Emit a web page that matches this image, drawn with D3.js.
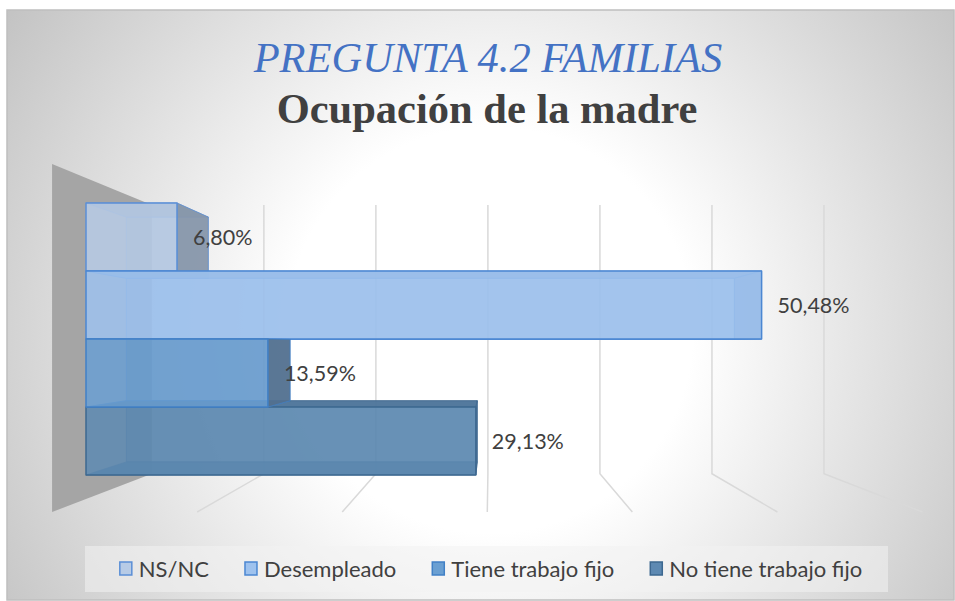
<!DOCTYPE html>
<html>
<head>
<meta charset="utf-8">
<script src="https://cdn.jsdelivr.net/npm/d3@7"></script>
<style>
  html, body { margin: 0; padding: 0; background: #fff; }
  svg { display: block; }
</style>
</head>
<body>
<div id="viz"></div>
<script>
// chart data
var categories = ["NS/NC", "Desempleado", "Tiene trabajo fijo", "No tiene trabajo fijo"];
var values = [6.80, 50.48, 13.59, 29.13];
var axisTicks = [0, 10, 20, 30, 40, 50, 60];
var titleTop = "PREGUNTA 4.2 FAMILIAS";
var titleMain = "Ocupación de la madre";

var fills = ["#b7cbe6", "#9ec2ee", "#6a9fd2", "#5d89b2"];
var strokes = ["#5b8fd6", "#4b87d2", "#4180c6", "#3d6890"];
var darkFills = ["#8797ab", "#7f9fc7", "#52708f", "#4b7399"];

const W = 955, H = 601;

const svg = d3.select("#viz")
  .append("svg")
    .attr("width", W)
    .attr("height", H);

// background
const defs = svg.append("defs");
const bg = defs.append("radialGradient")
    .attr("id", "bg")
    .attr("gradientUnits", "userSpaceOnUse")
    .attr("cx", 490).attr("cy", 330).attr("r", 580);
bg.append("stop").attr("offset", "0").attr("stop-color", "#ffffff");
bg.append("stop").attr("offset", "0.35").attr("stop-color", "#ffffff");
bg.append("stop").attr("offset", "1").attr("stop-color", "#c3c3c3");

svg.append("rect")
    .attr("x", 7).attr("y", 10)
    .attr("width", 947).attr("height", 590)
    .attr("fill", "url(#bg)")
    .attr("stroke", "#bfbfbf")
    .attr("stroke-width", 1.5);

// titles
svg.append("text")
    .attr("x", 488).attr("y", 72)
    .attr("text-anchor", "middle")
    .style("font-family", "'Liberation Serif', 'Times New Roman', serif")
    .style("font-style", "italic")
    .style("font-size", "42.5px")
    .attr("fill", "#4472c4")
    .text(titleTop);

svg.append("text")
    .attr("x", 487).attr("y", 123)
    .attr("text-anchor", "middle")
    .style("font-family", "'Liberation Serif', 'Times New Roman', serif")
    .style("font-weight", "bold")
    .style("font-size", "42.5px")
    .attr("fill", "#404040")
    .text(titleMain);

// 3d projection: point on the bars' front plane, pulled toward the vanishing point by f
const VP = [490, 344];
function proj(x, y, f) {
  return [VP[0] + (x - VP[0]) * f, VP[1] + (y - VP[1]) * f];
}
const boxFront = 1.084, boxBack = 0.837, barFront = 1, barBack = 0.9;
const plotTop = 178, plotBottom = 499;

const x = d3.scaleLinear()
    .domain([0, 60])
    .range([86, 889]);

const y = d3.scaleBand()
    .domain(categories)
    .range([203, 475])
    .padding(0);

const line = d3.line();

// side wall
svg.append("path")
    .attr("d", line([
      proj(x(0), plotTop, boxFront),
      proj(x(0), plotTop, boxBack),
      proj(x(0), plotBottom, boxBack),
      proj(x(0), plotBottom, boxFront)
    ]) + "Z")
    .attr("fill", "#a5a5a5");

// gridlines on back wall and floor
svg.append("g")
  .selectAll("path")
  .data(axisTicks.filter(function(t) { return t > 0; }))
  .join("path")
    .attr("d", function(t) {
      return line([
        proj(x(t), plotTop, boxBack),
        proj(x(t), plotBottom, boxBack),
        proj(x(t), plotBottom, boxFront)
      ]);
    })
    .attr("fill", "none")
    .attr("stroke", "#d9d9d9")
    .attr("stroke-width", 1.5);

// bars as boxes
var bars = categories.map(function(c, i) { return { cat: c, value: values[i], i: i }; });
// painter's order: farthest from the vanishing point first
var order = bars.slice().sort(function(a, b) {
  var da = Math.abs(y(a.cat) + y.bandwidth() / 2 - VP[1]);
  var db = Math.abs(y(b.cat) + y.bandwidth() / 2 - VP[1]);
  return db - da;
});

function faces(d) {
  var x0 = x(0), x1 = x(d.value), y0 = y(d.cat), y1 = y0 + y.bandwidth();
  var P = function(px, py, f) { return proj(px, py, f); };
  return [
    { kind: "back", pts: [P(x0, y0, barBack), P(x1, y0, barBack), P(x1, y1, barBack), P(x0, y1, barBack)] },
    { kind: "side", pts: [P(x0, y0, barFront), P(x1, y0, barFront), P(x1, y0, barBack), P(x0, y0, barBack)] },
    { kind: "side", pts: [P(x0, y1, barFront), P(x1, y1, barFront), P(x1, y1, barBack), P(x0, y1, barBack)] },
    { kind: "side", pts: [P(x1, y0, barFront), P(x1, y1, barFront), P(x1, y1, barBack), P(x1, y0, barBack)] },
    { kind: "front", pts: [P(x0, y0, barFront), P(x1, y0, barFront), P(x1, y1, barFront), P(x0, y1, barFront)] }
  ];
}

const barG = svg.append("g");
order.forEach(function(d) {
  barG.append("g")
    .selectAll("path")
    .data(faces(d))
    .join("path")
      .attr("d", function(f) { return line(f.pts) + "Z"; })
      .attr("fill", function(f) { return f.kind === "front" ? fills[d.i] : darkFills[d.i]; })
      .attr("fill-opacity", function(f) { return f.kind === "front" ? 0.85 : (f.kind === "back" ? 0.5 : 0.9); })
      .attr("stroke", strokes[d.i])
      .attr("stroke-opacity", function(f) { return f.kind === "front" ? 1 : 0.6; })
      .attr("stroke-width", function(f) { return f.kind === "front" ? 1.5 : 1; })
      .attr("stroke-linejoin", "round");
});

// data labels
var fmt = d3.formatLocale({ decimal: ",", thousands: ".", grouping: [3], currency: ["", "€"] }).format(".2f");
svg.append("g")
  .selectAll("text")
  .data(bars)
  .join("text")
    .attr("x", function(d) { return x(d.value) + 16; })
    .attr("y", function(d) { return y(d.cat) + y.bandwidth() / 2; })
    .attr("dy", "0.35em")
    .style("font-family", "Lato, 'Open Sans', sans-serif")
    .style("font-size", "21.5px")
    .attr("fill", "#404040")
    .text(function(d) { return fmt(d.value) + "%"; });

// legend
svg.append("rect")
    .attr("x", 85).attr("y", 546)
    .attr("width", 803).attr("height", 46)
    .attr("fill", "#f2f2f2")
    .attr("fill-opacity", 0.55);

const legend = svg.append("g");
const items = legend.selectAll("g")
  .data(categories)
  .join("g");
items.append("rect")
    .attr("width", 12).attr("height", 13)
    .attr("y", -7)
    .attr("fill", function(d, i) { return fills[i]; })
    .attr("stroke", function(d, i) { return strokes[i]; })
    .attr("stroke-width", 1.5);
items.append("text")
    .attr("x", 19)
    .attr("dy", "0.35em")
    .style("font-family", "Lato, 'Open Sans', sans-serif")
    .style("font-size", "22px")
    .attr("fill", "#404040")
    .text(function(d) { return d; });

var offs = [], cur = 0;
items.each(function() {
  offs.push(cur);
  cur += 19 + this.querySelector("text").getComputedTextLength() + 36;
});
var total = cur - 36;
var startX = 491 - total / 2;
items.attr("transform", function(d, i) { return "translate(" + (startX + offs[i]) + ",569)"; });
</script>
</body>
</html>
